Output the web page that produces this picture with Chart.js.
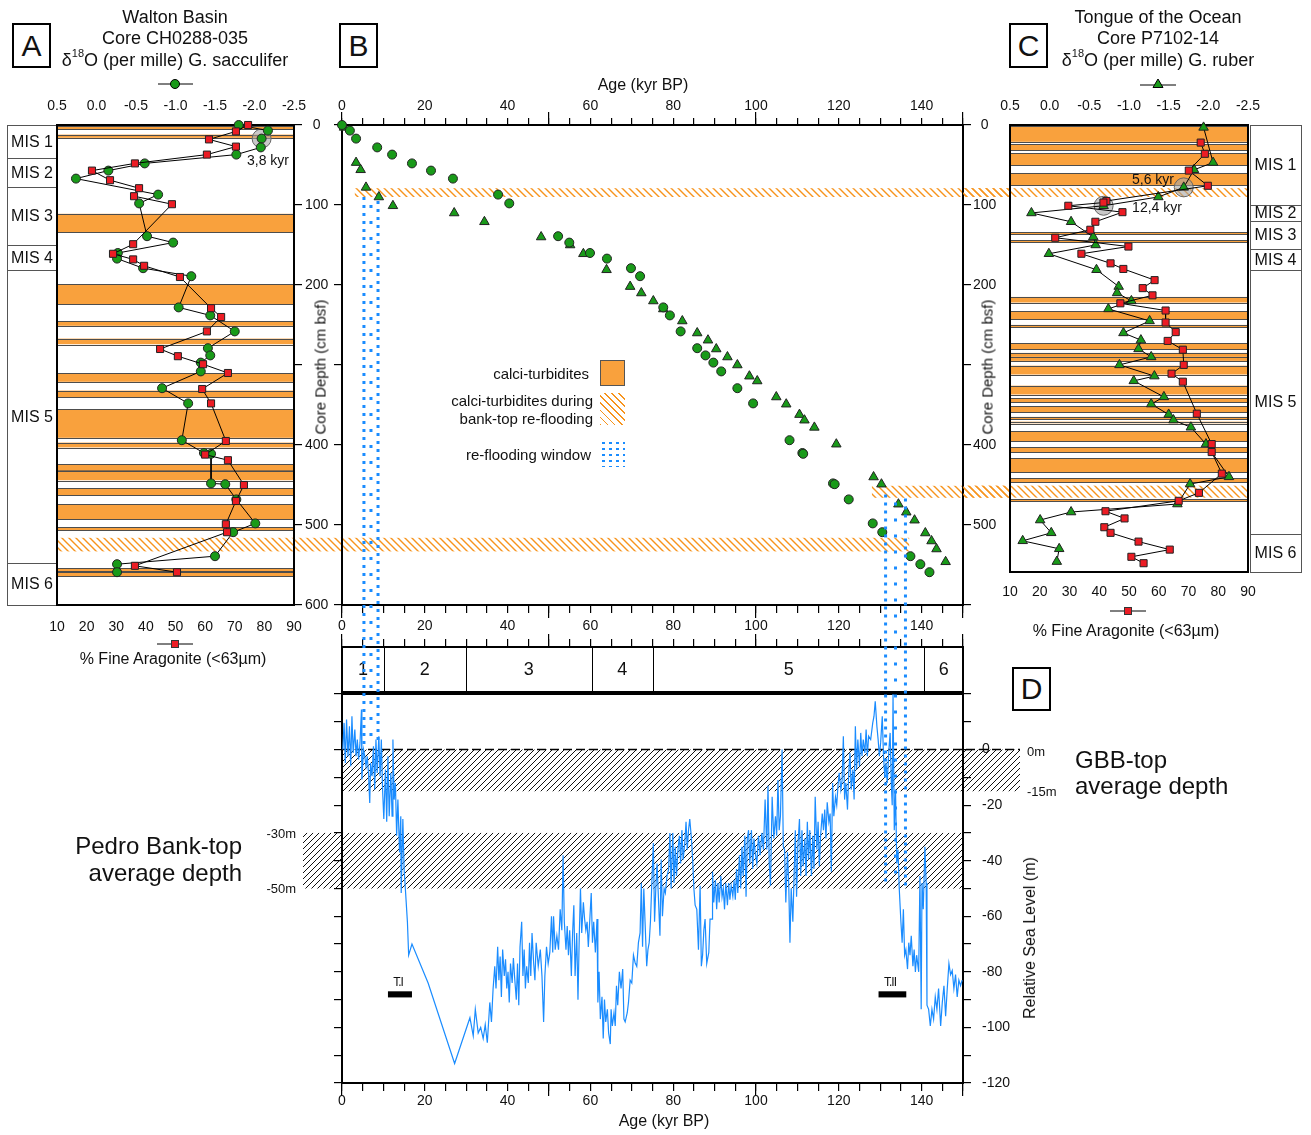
<!DOCTYPE html>
<html>
<head>
<meta charset="utf-8">
<title>Bank-top re-flooding and calci-turbidites</title>
<script src="https://cdn.jsdelivr.net/npm/chart.js@4.4.1/dist/chart.umd.min.js"></script>
<style>
  body { margin: 0; background: #fff; width: 1311px; height: 1135px; position: relative; overflow: hidden;
         font-family: 'Liberation Sans', Arial, sans-serif; color: #111; }
  canvas { position: absolute; left: 0; top: 0; }
  .t { position: absolute; white-space: nowrap; line-height: 1; transform: translate(-50%, -50%); }
  .r { transform: translate(-100%, -50%); }
  .l { transform: translate(0, -50%); }
  .rot { transform: translate(-50%, -50%) rotate(-90deg); }
  .box { position: absolute; border: 2px solid #000; box-sizing: border-box; display: flex;
         align-items: center; justify-content: center; font-size: 30px; background: #fff; }
  sup { font-size: 11px; position: relative; top: -2px; }
</style>
</head>
<body>
<canvas id="cA" width="1311" height="1135"></canvas>
<canvas id="cB" width="1311" height="1135"></canvas>
<canvas id="cC" width="1311" height="1135"></canvas>
<canvas id="cM" width="1311" height="1135"></canvas>
<canvas id="cD" width="1311" height="1135"></canvas>

<!-- panel letters -->
<div class="box" style="left:12px;top:23px;width:39px;height:45px">A</div>
<div class="box" style="left:339px;top:23px;width:39px;height:45px">B</div>
<div class="box" style="left:1009px;top:23px;width:39px;height:45px">C</div>
<div class="box" style="left:1012px;top:667px;width:39px;height:44px">D</div>

<!-- panel A titles -->
<div class="t" style="left:175px;top:17px;font-size:18px">Walton Basin</div>
<div class="t" style="left:175px;top:38px;font-size:18px">Core CH0288-035</div>
<div class="t" style="left:175px;top:59px;font-size:18px">&delta;<sup>18</sup>O (per mille) G. sacculifer</div>
<svg style="position:absolute;left:155px;top:76px" width="40" height="16">
  <line x1="3" y1="8" x2="38" y2="8" stroke="#000" stroke-width="1"/>
  <circle cx="20" cy="8" r="4.5" fill="#199a19" stroke="#000" stroke-width="1"/>
</svg>
<svg style="position:absolute;left:155px;top:636px" width="40" height="16">
  <line x1="2" y1="8" x2="38" y2="8" stroke="#000" stroke-width="1"/>
  <rect x="16.5" y="4.5" width="7" height="7" fill="#ec1c24" stroke="#333" stroke-width="1"/>
</svg>
<div class="t" style="left:173px;top:659px;font-size:16px">% Fine Aragonite (&lt;63&micro;m)</div>
<div class="t rot" style="left:320px;top:367px;font-size:15px">Core Depth (cm bsf)</div>
<div class="t" style="left:268px;top:160px;font-size:14px">3,8 kyr</div>

<!-- panel B -->
<div class="t" style="left:643px;top:85px;font-size:16px">Age (kyr BP)</div>
<div class="t r" style="left:589px;top:373px;font-size:15px">calci-turbidites</div>
<div class="t r" style="left:593px;top:400px;font-size:15px">calci-turbidites during</div>
<div class="t r" style="left:593px;top:418px;font-size:15px">bank-top re-flooding</div>
<div class="t r" style="left:591px;top:454px;font-size:15px">re-flooding window</div>
<div style="position:absolute;left:600px;top:360px;width:25px;height:26px;background:#f9a13d;border:1px solid #555;box-sizing:border-box"></div>
<div style="position:absolute;left:600px;top:393px;width:25px;height:32px;background:repeating-linear-gradient(45deg,#f7941d 0 1.3px,transparent 1.3px 5px)"></div>
<div style="position:absolute;left:600px;top:440px;width:25px;height:27px;background-image:radial-gradient(#1a8cff 1.3px,transparent 1.6px);background-size:7px 6px"></div>

<!-- panel C titles -->
<div class="t" style="left:1158px;top:17px;font-size:18px">Tongue of the Ocean</div>
<div class="t" style="left:1158px;top:38px;font-size:18px">Core P7102-14</div>
<div class="t" style="left:1158px;top:59px;font-size:18px">&delta;<sup>18</sup>O (per mille) G. ruber</div>
<svg style="position:absolute;left:1138px;top:76px" width="40" height="16">
  <line x1="2" y1="9" x2="38" y2="9" stroke="#000" stroke-width="1"/>
  <polygon points="20,3 25,11.5 15,11.5" fill="#199a19" stroke="#000" stroke-width="1"/>
</svg>
<svg style="position:absolute;left:1108px;top:603px" width="40" height="16">
  <line x1="2" y1="8" x2="38" y2="8" stroke="#000" stroke-width="1"/>
  <rect x="16.5" y="4.5" width="7" height="7" fill="#ec1c24" stroke="#333" stroke-width="1"/>
</svg>
<div class="t" style="left:1126px;top:631px;font-size:16px">% Fine Aragonite (&lt;63&micro;m)</div>
<div class="t rot" style="left:987px;top:367px;font-size:15px">Core Depth (cm bsf)</div>
<div class="t" style="left:1153px;top:179px;font-size:14px">5,6 kyr</div>
<div class="t" style="left:1157px;top:207px;font-size:14px">12,4 kyr</div>

<!-- panel D -->
<div class="t r" style="left:242px;top:846px;font-size:24px">Pedro Bank-top</div>
<div class="t r" style="left:242px;top:873px;font-size:24px">average depth</div>
<div class="t r" style="left:296px;top:833px;font-size:13px">-30m</div>
<div class="t r" style="left:296px;top:888px;font-size:13px">-50m</div>
<div class="t l" style="left:1027px;top:751px;font-size:13px">0m</div>
<div class="t l" style="left:1027px;top:791px;font-size:13px">-15m</div>
<div class="t l" style="left:1075px;top:760px;font-size:24px">GBB-top</div>
<div class="t l" style="left:1075px;top:786px;font-size:24px">average depth</div>
<div class="t rot" style="left:1030px;top:938px;font-size:16px">Relative Sea Level (m)</div>
<div class="t" style="left:398px;top:982px;font-size:12px;letter-spacing:-1px">T.I</div>
<div class="t" style="left:890px;top:982px;font-size:12px;letter-spacing:-1px">T.II</div>
<div class="t" style="left:664px;top:1121px;font-size:16px">Age (kyr BP)</div>

<script>
// ---- Walton Basin core CH0288-035 (panel A and circles in B) ----
const wbDepth = [0, 7, 17, 28, 37, 48, 57, 67, 87, 98, 139, 147, 160, 167, 179, 189, 228, 238, 258, 279,
                 288, 297, 308, 329, 348, 394, 410, 411, 448, 449, 468, 498, 509, 539, 549, 559];
const wbO18 = [-1.80, -2.17, -2.09, -2.08, -1.77, -0.61, -0.15, 0.26, -0.78, -0.54, -0.64, -0.97, -0.27, -0.26,
               -0.59, -1.20, -1.04, -1.44, -1.75, -1.41, -1.44, -1.32, -1.32, -0.83, -1.16, -1.08, -1.36, -1.45,
               -1.45, -1.63, -1.77, -2.01, -1.73, -1.50, -0.26, -0.26];
const wbAge = [0, 1.9, 3.4, 8.5, 12.1, 16.9, 21.5, 26.8, 37.7, 40.4, 52.2, 54.9, 59.9, 64.0, 69.8, 72.0, 77.6,
               79.2, 81.8, 85.8, 87.8, 89.7, 91.6, 95.5, 99.3, 108.1, 111.2, 111.4, 118.6, 119.0, 122.4, 128.2,
               130.5, 137.3, 139.7, 141.9];
const wbAragDepth = [0, 8, 18, 27, 37, 48, 57, 69, 79, 89, 99, 149, 161, 168, 176, 190, 229, 240, 258, 280,
                     289, 299, 310, 330, 348, 395, 412, 419, 450, 470, 499, 509, 551, 559];
const wbArag = [74.5, 70.4, 61.3, 70.4, 60.6, 36.3, 21.8, 27.9, 37.7, 36.0, 48.8, 35.7, 28.9, 35.7, 39.4, 51.5,
                62.0, 65.4, 60.6, 44.8, 50.8, 59.3, 67.7, 59.0, 62.0, 67.0, 60.0, 67.7, 73.1, 70.4, 67.0, 67.4,
                36.3, 50.5];
const wbBands = [[1, 5], [12, 16], [111, 134], [199, 224], [245, 251], [267, 274], [310, 321], [332, 340],
                 [355, 391], [397, 403], [424, 432], [432, 444], [454, 463], [474, 493], [503, 507], [554, 558],
                 [559, 564]];
const wbHatch = [[516, 533]];
const wbHatchEnd = [137];          // kyr, where the band stops in panel B
const misDepthA = [0, 41, 77, 150, 181, 547, 600];
const wbMarked = [2];              // 3,8 kyr

// ---- Tongue of the Ocean core P7102-14 (panel C and triangles in B) ----
const totoDepth = [3, 47, 56, 78, 90, 101, 110, 121, 140, 150, 161, 181, 202, 210, 220, 230, 245, 260, 269, 280,
                   290, 300, 314, 320, 340, 349, 362, 369, 378, 399, 440, 449, 474, 484, 494, 510, 520, 530, 546];
const totoO18 = [-1.94, -2.06, -1.82, -1.69, -1.37, -0.68, 0.23, -0.27, -0.55, -0.58, 0.01, -0.59, -0.87, -0.85,
                 -1.03, -0.74, -1.26, -0.93, -1.15, -1.12, -1.28, -0.88, -1.32, -1.06, -1.44, -1.28, -1.50, -1.56,
                 -1.78, -1.97, -2.26, -1.77, -1.61, -0.27, 0.12, -0.02, 0.34, -0.12, -0.09];
const totoAge = [0.5, 3.4, 4.5, 5.8, 8.9, 12.3, 27.1, 34.4, 48.1, 55.1, 58.3, 63.9, 69.6, 72.3, 75.2, 77.6, 82.2,
                 85.8, 88.4, 90.4, 93.1, 95.5, 98.4, 100.3, 104.9, 107.3, 110.5, 111.7, 114.1, 119.4, 128.4, 130.3,
                 134.4, 136.3, 138.3, 140.9, 142.4, 143.6, 145.8];
const totoAragDepth = [22, 36, 57, 76, 95, 97, 101, 109, 121, 131, 141, 152, 161, 173, 180, 194, 204, 213, 223,
                       232, 247, 259, 270, 281, 300, 311, 321, 361, 399, 409, 436, 460, 470, 483, 492, 503, 510,
                       521, 531, 540, 548];
const totoArag = [74.1, 75.5, 70.1, 76.5, 42.4, 41.4, 29.6, 47.8, 38.7, 37.0, 25.2, 49.8, 34.0, 43.8, 48.1, 58.6,
                  54.6, 57.9, 47.1, 62.3, 62.3, 65.7, 63.0, 68.1, 68.4, 64.3, 68.1, 72.8, 77.8, 77.8, 81.2, 73.5,
                  66.7, 42.1, 48.5, 41.7, 43.8, 53.2, 63.7, 50.8, 54.9];
const totoBands = [[1, 21], [24, 32], [35, 50], [60, 75], [134, 137], [144, 147], [215, 222], [233, 243],
                   [250, 253], [273, 281], [285, 290], [290, 295], [301, 312], [326, 337], [342, 347], [352, 360],
                   [365, 368], [371, 373], [383, 396], [403, 409], [417, 434], [442, 447], [468, 471]];
const totoHatch = [[79, 90], [451, 466]];
const totoHatchStart = [3.1, 128];  // kyr, where the bands start in panel B
const misDepthC = [0, 100, 120, 155, 181, 511, 559];
const totoMarked = [3, 5];          // 5,6 kyr and 12,4 kyr
const totoBottom = 559;             // core base, cm

// ---- marine isotope stages, re-flooding windows, terminations ----
const misAge = [0, 10.1, 29.9, 60.3, 75.1, 140.7, 150];
const misLabels = ['1', '2', '3', '4', '5', '6'];
const refloodAge = [[5.3, 8.7], [131.3, 136.1]];
const refloodTop = [90, 462];       // cm, panel B
const refloodBottom = [2, -49];     // m, panel D
const termAge = [[11.1, 16.9], [129.6, 136.3]];
const termLevel = [-87, -89.2];
const gbbLevel = [0, -15];
const pedroLevel = [-30, -50];

// ---- relative sea level (panel D) ----
const slAge = [0.2, 0.5, 0.8, 1.1, 1.45, 1.8, 2.1, 2.4, 2.7, 3.1, 3.4, 3.7, 4.0, 4.35, 4.7, 4.8, 5.2, 5.5, 5.8, 6.1,
  6.4, 6.7, 6.9, 7.25, 7.6, 7.9, 8.2, 8.5, 8.9, 9.2, 9.5, 9.8, 10.1, 10.5, 10.8, 11.1, 11.4, 11.8, 12.1, 12.3,
  12.6, 12.9, 13.2, 13.5, 13.9, 14.2, 14.3, 14.7, 15.0, 15.3, 15.8, 16.1, 16.9, 20.8, 27.2, 30.9, 31.7, 32.2, 32.9,
  33.5, 34.1, 34.6, 35.1, 35.7, 36.1, 36.5, 36.9, 37.2, 37.6, 37.9, 38.2, 38.5, 38.8, 39.2, 39.5, 39.8, 40.1, 40.4,
  40.7, 41.1, 41.4, 41.7, 42.1, 42.4, 42.7, 43.0, 43.4, 43.7, 44.0, 44.3, 44.6, 45.0, 45.3, 45.6, 45.9, 46.3, 46.6,
  46.9, 47.4, 47.9, 48.3, 48.7, 49.0, 49.4, 49.8, 50.2, 50.6, 50.9, 51.1, 51.5, 51.9, 52.3, 52.7, 53.1, 53.4, 53.7,
  54.1, 54.4, 54.7, 55.0, 55.4, 55.7, 56.0, 56.3, 56.7, 57.0, 57.3, 57.6, 57.9, 58.3, 58.6, 58.9, 59.2, 59.5, 59.9,
  60.2, 60.5, 60.8, 61.2, 61.6, 61.8, 62.1, 62.4, 62.8, 63.1, 63.4, 63.7, 64.1, 64.4, 64.8, 65.0, 65.3, 65.7, 66.0,
  66.3, 66.6, 67.0, 67.4, 67.8, 68.1, 68.4, 68.9, 69.2, 69.6, 70.0, 70.4, 70.8, 71.2, 71.6, 72.0, 72.3, 72.6, 72.9,
  73.2, 73.6, 73.9, 74.2, 74.5, 74.9, 75.2, 75.5, 75.8, 76.1, 76.5, 76.8, 77.1, 77.4, 77.8, 78.1, 78.5, 78.9, 79.2,
  79.5, 79.9, 80.2, 80.5, 80.8, 81.1, 81.5, 81.8, 82.1, 82.4, 82.8, 83.1, 83.4, 83.7, 84.0, 84.4, 84.7, 85.0, 85.3,
  85.7, 86.1, 86.5, 86.8, 87.1, 87.4, 87.7, 88.1, 88.6, 88.9, 89.4, 89.5, 89.8, 90.2, 90.5, 90.8, 91.1, 91.5, 91.8,
  92.1, 92.4, 92.7, 93.1, 93.4, 93.7, 94.0, 94.4, 94.7, 95.0, 95.3, 95.6, 96.0, 96.3, 96.6, 96.9, 97.3, 97.6, 97.9,
  98.2, 98.5, 98.9, 99.2, 99.5, 99.8, 100.2, 100.6, 101.0, 101.4, 101.8, 102.2, 102.6, 102.9, 103.2, 103.5, 103.9,
  104.3, 104.7, 105.0, 105.3, 105.6, 105.9, 106.3, 106.6, 106.9, 107.2, 107.6, 107.9, 108.2, 108.5, 108.9, 109.2,
  109.5, 109.8, 110.1, 110.5, 110.8, 111.1, 111.4, 111.8, 112.1, 112.4, 112.7, 113.0, 113.4, 113.7, 114.0, 114.3,
  114.7, 115.0, 115.3, 115.6, 116.0, 116.3, 116.6, 116.9, 117.2, 117.6, 117.9, 118.2, 118.5, 118.8, 119.2, 119.5,
  119.8, 120.1, 120.5, 120.8, 121.1, 121.4, 121.7, 122.1, 122.4, 122.7, 123.0, 123.4, 123.7, 124.0, 124.3, 124.6,
  125.0, 125.3, 125.6, 125.9, 126.3, 126.6, 126.9, 127.2, 127.7, 128.2, 128.5, 128.8, 129.2, 129.5, 129.8, 130.1,
  130.5, 130.8, 131.1, 131.4, 131.7, 132.1, 132.4, 132.7, 132.9, 133.1, 133.4, 133.7, 134.0, 134.3, 134.6, 135.0,
  135.3, 135.6, 135.9, 136.2, 136.6, 136.9, 137.2, 137.5, 137.9, 138.2, 138.5, 138.8, 139.3, 139.6, 139.9, 140.1,
  140.4, 140.8, 141.1, 141.3, 141.7, 142.1, 142.5, 142.9, 143.3, 143.7, 144.1, 144.6, 145.0, 145.4, 145.8, 146.2,
  146.6, 147.0, 147.4, 147.8, 148.2, 148.6, 149.0, 149.4, 149.8];
const slLevel = [0, 9.6, -4.8, 10.8, -2.4, 8.4, -6, 12, -1.2, 7.2, -2.4, 3.6, -3.6, 2.4, 14.4, -10.8, 0, -2.4, -6,
  -2.4, -8.4, -19.2, -4.8, -9.6, 1.2, -14.4, 3.6, -8.4, 4.8, -9.6, 3.6, -14.4, -25, -7.2, -26, -2.4, -24, -8.4, -24,
  3.6, -18, -12, -31, -18, -37, -24, -51.6, -25, -43, -50, -62, -74, -70, -84, -113, -96.5, -103, -93.5, -102, -100,
  -104, -99, -105.5, -91, -98, -86, -78, -86, -71, -83, -74.5, -89, -72, -81.5, -75.5, -86, -80, -91, -77, -84, -75,
  -82, -90, -77, -92, -71, -62, -81.5, -72, -86, -78, -84, -69.5, -81.5, -66, -77, -83, -69.5, -78, -72, -81.5, -98,
  -81.5, -71, -77, -73, -60, -73, -60, -72, -67, -72, -57.5, -65, -38, -62, -72, -63.5, -74, -65, -81.5, -66, -56,
  -81.5, -66, -90, -68, -50, -66, -55, -61, -65, -62, -71, -60, -51.6, -69.5, -62, -73, -61, -91, -80, -97, -89,
  -104, -90, -98, -93.5, -102, -106, -93.5, -99.5, -94.7, -99.5, -85, -92, -80, -86, -79, -97, -98, -94.7, -91, -83,
  -84, -74, -76.7, -78, -69.5, -66, -48, -71, -50, -62, -78, -72, -69.5, -62, -45.5, -33.6, -62, -50, -41, -56, -67,
  -39.6, -60, -50, -51.6, -45.5, -43, -30, -50, -30, -48, -35, -45.5, -37, -31, -41, -29, -39.6, -33.6, -26, -36,
  -29, -25, -32, -39.6, -50, -56, -57.5, -72, -49, -78, -74, -65, -61, -77, -73, -61, -61, -44, -55, -47, -57.5,
  -48, -55, -45.5, -53, -50, -57.5, -48, -56, -48, -54, -49, -52.8, -47, -54, -43, -51.6, -38, -50, -35, -45.5, -31,
  -53, -32, -29, -41, -29, -43, -32, -37, -41, -31, -38, -30, -36, -18, -36, -13, -41, -49, -17, -32, -24, -31, -11,
  -29, -24, 0, -35, -36, -55, -37, -48, -69.5, -50, -62, -45.5, -29, -53, -35, -25, -45.5, -29, -42, -32, -45.5,
  -26, -39.6, -29, -45.5, -31, -43, -17, -36, -26, -42, -31, -23, -29, -21.6, -32, -19, -26, -23, -44, -12, -24,
  -17, -20, -13, -8.4, -14.4, -11, 4.8, -18, -12, -21.6, -8.4, -1.2, -14.4, -7.2, -18, 8.4, -7.2, 3.6, -6, 6, -2.4,
  3.6, -1.2, 7.2, -2.4, 4.8, 3.6, 9.6, 12, 17.4, 8.4, 3.6, -2.4, 2.4, 12, -2.4, -9.6, -4.8, -12, 0, 6, -13, -20,
  20, -29, -14.4, -41, -36, -50, -62, -69.5, -57.5, -74, -72, -79, -69.5, -74, -67, -78, -72, -80, -74, -80, -45.5,
  -93.5, -48, -57.5, -35, -48, -92, -93.5, -99.5, -93.5, -97, -89, -93.5, -86, -99.5, -91, -85, -96, -86, -77, -81,
  -79.5, -86, -81, -89, -83, -85, -83];

// ---- layout (chart areas in page pixels) ----
const PAGE_W = 1311, PAGE_H = 1135;
const AREA = {
  A: { l: 57, r: 294, t: 125, b: 605 },
  B: { l: 342, r: 963, t: 125, b: 605 },
  C: { l: 1010, r: 1248, t: 125, b: 572 },
  M: { l: 342, r: 963, t: 647, b: 692 },
  D: { l: 342, r: 963, t: 694, b: 1083 }
};
const gbbRight = 1020, pedroLeft = 303;

const GREEN = '#199a19', RED = '#ec1c24', ORANGE = '#f9a13d', BLUE = '#1a8cff';
const FONT = "'Liberation Sans', Arial, sans-serif";

Chart.defaults.font.family = FONT;
Chart.defaults.font.size = 14;
Chart.defaults.color = '#111';
Chart.defaults.animation = false;
Chart.defaults.responsive = false;
Chart.defaults.plugins.legend.display = false;
Chart.defaults.plugins.tooltip.enabled = false;

function pad(area, ax) {
  return { left: area.l - (ax.left || 0), right: PAGE_W - area.r - (ax.right || 0),
           top: area.t - (ax.top || 0), bottom: PAGE_H - area.b - (ax.bottom || 0) };
}

// linear axis with a fixed box size so chart areas line up across panels
function axis(pos, min, max, step, size, o = {}) {
  return {
    type: 'linear', position: pos, min: min, max: max, reverse: !!o.reverse, display: o.display !== false,
    weight: o.weight || 0,
    afterFit: s => { if (s.isHorizontal()) s.height = size; else s.width = size; },
    border: { display: false },
    grid: { drawOnChartArea: false, drawTicks: !!o.tick, tickLength: o.tick || 0, color: '#000', lineWidth: 1.2 },
    ticks: { stepSize: step, autoSkip: false, maxRotation: 0, padding: o.pad || 0, display: o.labels !== false,
             crossAlign: o.cross || 'near', callback: o.fmt || (v => v) }
  };
}
// longer ticks every 50 kyr, sitting right on the plot edge
const majorAge = pos => axis(pos, 0, 150, 50, 0, { tick: 13, labels: false });
const ageFmt = v => (v % 20 === 0 ? v : '');

function hatchTile(color, gap, lw, slash) {
  const c = document.createElement('canvas');
  c.width = c.height = gap;
  const g = c.getContext('2d');
  g.strokeStyle = color; g.lineWidth = lw; g.beginPath();
  if (slash) {
    g.moveTo(0, gap); g.lineTo(gap, 0);
    g.moveTo(-1, 1); g.lineTo(1, -1);
    g.moveTo(gap - 1, gap + 1); g.lineTo(gap + 1, gap - 1);
  } else {
    g.moveTo(0, 0); g.lineTo(gap, gap);
    g.moveTo(-1, gap - 1); g.lineTo(1, gap + 1);
    g.moveTo(gap - 1, -1); g.lineTo(gap + 1, 1);
  }
  g.stroke();
  return c;
}
const orangeTile = hatchTile('#f7941d', 7, 1.4, false);
const blackTile = hatchTile('#111', 6, 1, true);

function drawFrame(ctx, a) {
  ctx.save();
  ctx.lineWidth = 2; ctx.strokeStyle = '#000';
  ctx.strokeRect(a.left, a.top, a.right - a.left, a.bottom - a.top);
  ctx.restore();
}
function drawBands(ctx, bands, y, x0, x1) {
  ctx.save();
  ctx.fillStyle = ORANGE; ctx.strokeStyle = '#4d4d4d'; ctx.lineWidth = 1;
  bands.forEach(([d0, d1]) => {
    const y0 = y.getPixelForValue(d0), y1 = y.getPixelForValue(d1);
    ctx.fillRect(x0, y0, x1 - x0, y1 - y0);
    ctx.strokeRect(x0, Math.round(y0) + 0.5, x1 - x0, Math.round(y1 - y0));
  });
  ctx.restore();
}
function fillHatch(ctx, x0, x1, y0, y1) {
  ctx.save();
  ctx.fillStyle = ctx.createPattern(orangeTile, 'repeat');
  ctx.fillRect(x0, y0, x1 - x0, y1 - y0);
  ctx.restore();
}
function drawMis(ctx, bounds, y, x0, x1) {
  ctx.save();
  ctx.strokeStyle = '#555'; ctx.lineWidth = 1; ctx.fillStyle = '#111';
  ctx.font = '16px ' + FONT; ctx.textAlign = 'center'; ctx.textBaseline = 'middle';
  for (let i = 0; i < bounds.length - 1; i++) {
    const y0 = y.getPixelForValue(bounds[i]), y1 = y.getPixelForValue(bounds[i + 1]);
    ctx.strokeRect(x0 + 0.5, Math.round(y0) + 0.5, x1 - x0, Math.round(y1 - y0));
    ctx.fillText('MIS ' + (i + 1), (x0 + x1) / 2, (y0 + y1) / 2 + 1);
  }
  ctx.restore();
}
function ring(ctx, x, y) {
  ctx.save();
  ctx.beginPath(); ctx.arc(x, y, 9.5, 0, Math.PI * 2);
  ctx.fillStyle = 'rgba(165,165,165,0.6)'; ctx.strokeStyle = '#666'; ctx.lineWidth = 1;
  ctx.fill(); ctx.stroke();
  ctx.restore();
}

const pts = (xs, ys) => ys.map((v, i) => ({ x: xs[i], y: v }));
const lineSet = (data, xId, yId, style, color, r) => ({
  data: data, xAxisID: xId, yAxisID: yId, showLine: true, borderColor: '#000', borderWidth: 1,
  pointStyle: style, pointRadius: r, pointBackgroundColor: color, pointBorderColor: '#222',
  pointBorderWidth: 1, clip: false
});

// ---------- panel A ----------
const panelA = {
  id: 'panelA',
  beforeDatasetsDraw(chart) {
    const { ctx, chartArea: a, scales: { y, xO } } = chart;
    drawBands(ctx, wbBands, y, a.left, a.right);
    wbHatch.forEach(([d0, d1]) => fillHatch(ctx, a.left, AREA.B.l, y.getPixelForValue(d0), y.getPixelForValue(d1)));
    drawMis(ctx, misDepthA, y, a.left - 50, a.left);
    wbMarked.forEach(i => ring(ctx, xO.getPixelForValue(wbO18[i]), y.getPixelForValue(wbDepth[i])));
    drawFrame(ctx, a);
  }
};
new Chart(document.getElementById('cA'), {
  type: 'scatter',
  data: { datasets: [
    lineSet(pts(wbArag, wbAragDepth), 'xA', 'y', 'rect', RED, 5),
    lineSet(pts(wbO18, wbDepth), 'xO', 'y', 'circle', GREEN, 4.5)
  ] },
  options: {
    layout: { padding: pad(AREA.A, { top: 40, bottom: 40, right: 40 }) },
    scales: {
      xO: axis('top', -2.5, 0.5, 0.5, 40, { reverse: true, pad: 10, fmt: v => v.toFixed(1) }),
      xA: axis('bottom', 10, 90, 10, 40, { pad: 14 }),
      y: axis('right', 0, 600, 100, 40, { reverse: true, tick: 8, pad: 3, cross: 'center',
                                          fmt: v => (v === 300 ? '' : v) })
    }
  },
  plugins: [panelA]
});

// ---------- panel B ----------
const panelB = {
  id: 'panelB',
  beforeDatasetsDraw(chart) {
    const { ctx, chartArea: a, scales: { x, yL } } = chart;
    wbHatch.forEach(([d0, d1], i) =>
      fillHatch(ctx, a.left, x.getPixelForValue(wbHatchEnd[i]), yL.getPixelForValue(d0), yL.getPixelForValue(d1)));
    totoHatch.forEach(([d0, d1], i) =>
      fillHatch(ctx, x.getPixelForValue(totoHatchStart[i]), AREA.C.l, yL.getPixelForValue(d0), yL.getPixelForValue(d1)));
    drawFrame(ctx, a);
  }
};
const chartB = new Chart(document.getElementById('cB'), {
  type: 'scatter',
  data: { datasets: [
    { data: pts(wbAge, wbDepth), xAxisID: 'x', yAxisID: 'yL', pointStyle: 'circle', pointRadius: 4.5,
      pointBackgroundColor: GREEN, pointBorderColor: '#222', pointBorderWidth: 1, clip: false },
    { data: pts(totoAge, totoDepth), xAxisID: 'x', yAxisID: 'yL', pointStyle: 'triangle', pointRadius: 5.5,
      pointBackgroundColor: GREEN, pointBorderColor: '#222', pointBorderWidth: 1, clip: false }
  ] },
  options: {
    layout: { padding: pad(AREA.B, { top: 40, bottom: 40, left: 10, right: 40 }) },
    scales: {
      x: axis('bottom', 0, 150, 5, 40, { tick: 8, pad: 5, fmt: ageFmt, weight: 1 }),
      xT: axis('top', 0, 150, 5, 40, { tick: 7, pad: 3, fmt: ageFmt, weight: 1 }),
      xMajB: majorAge('bottom'),
      xMajT: majorAge('top'),
      yL: axis('left', 0, 600, 100, 10, { reverse: true, tick: 8, labels: false }),
      yR: axis('right', 0, 600, 100, 40, { reverse: true, tick: 8, pad: 2, cross: 'center',
                                           fmt: v => (v === 300 || v === 600 ? '' : v) })
    }
  },
  plugins: [panelB]
});

// ---------- panel C ----------
const panelC = {
  id: 'panelC',
  beforeDatasetsDraw(chart) {
    const { ctx, chartArea: a, scales: { y, xO } } = chart;
    drawBands(ctx, totoBands, y, a.left, a.right);
    totoHatch.forEach(([d0, d1]) => fillHatch(ctx, AREA.B.r, a.right, y.getPixelForValue(d0), y.getPixelForValue(d1)));
    drawMis(ctx, misDepthC, y, a.right + 2, a.right + 53);
    totoMarked.forEach(i => ring(ctx, xO.getPixelForValue(totoO18[i]), y.getPixelForValue(totoDepth[i])));
    drawFrame(ctx, a);
  }
};
new Chart(document.getElementById('cC'), {
  type: 'scatter',
  data: { datasets: [
    lineSet(pts(totoArag, totoAragDepth), 'xA', 'y', 'rect', RED, 5),
    lineSet(pts(totoO18, totoDepth), 'xO', 'y', 'triangle', GREEN, 5.5)
  ] },
  options: {
    layout: { padding: pad(AREA.C, { top: 40, bottom: 40 }) },
    scales: {
      xO: axis('top', -2.5, 0.5, 0.5, 40, { reverse: true, pad: 10, fmt: v => v.toFixed(1) }),
      xA: axis('bottom', 10, 90, 10, 40, { pad: 12 }),
      y: axis('left', 0, totoBottom, 100, 0, { reverse: true, display: false })
    }
  },
  plugins: [panelC]
});

// ---------- MIS strip above D ----------
const misStrip = {
  id: 'misStrip',
  afterDraw(chart) {
    const { ctx, chartArea: a, scales: { x } } = chart;
    ctx.save();
    ctx.strokeStyle = '#000'; ctx.lineWidth = 1; ctx.fillStyle = '#111';
    ctx.font = '18px ' + FONT; ctx.textAlign = 'center'; ctx.textBaseline = 'middle';
    misLabels.forEach((lab, i) => {
      const x0 = x.getPixelForValue(misAge[i]), x1 = x.getPixelForValue(misAge[i + 1]);
      if (i > 0) {
        ctx.beginPath(); ctx.moveTo(Math.round(x0) + 0.5, a.top); ctx.lineTo(Math.round(x0) + 0.5, a.bottom); ctx.stroke();
      }
      ctx.fillText(lab, (x0 + x1) / 2, (a.top + a.bottom) / 2 + 1);
    });
    ctx.restore();
    drawFrame(ctx, a);
  }
};
new Chart(document.getElementById('cM'), {
  type: 'scatter',
  data: { datasets: [] },
  options: {
    layout: { padding: pad(AREA.M, { top: 8 }) },
    scales: {
      x: axis('top', 0, 150, 5, 8, { tick: 8, labels: false, weight: 1 }),
      xMaj: majorAge('top'),
      y: axis('left', 0, 1, 1, 0, { display: false })
    }
  },
  plugins: [misStrip]
});

// ---------- panel D ----------
const panelD = {
  id: 'panelD',
  beforeDatasetsDraw(chart) {
    const { ctx, chartArea: a, scales: { x, yR } } = chart;
    ctx.save();
    ctx.fillStyle = ctx.createPattern(blackTile, 'repeat');
    const g0 = yR.getPixelForValue(gbbLevel[0]), g1 = yR.getPixelForValue(gbbLevel[1]);
    ctx.fillRect(a.left, g0, gbbRight - a.left, g1 - g0);
    const p0 = yR.getPixelForValue(pedroLevel[0]), p1 = yR.getPixelForValue(pedroLevel[1]);
    ctx.fillRect(pedroLeft, p0, a.right - pedroLeft, p1 - p0);
    ctx.strokeStyle = '#000'; ctx.lineWidth = 1.5; ctx.setLineDash([9, 4]);
    ctx.beginPath(); ctx.moveTo(a.left, g0); ctx.lineTo(gbbRight, g0); ctx.stroke();
    ctx.setLineDash([]);
    ctx.fillStyle = '#000';
    const t0 = yR.getPixelForValue(termLevel[0]), t1 = yR.getPixelForValue(termLevel[1]);
    termAge.forEach(([s, e]) => ctx.fillRect(x.getPixelForValue(s), t0, x.getPixelForValue(e) - x.getPixelForValue(s), t1 - t0));
    ctx.restore();
    drawFrame(ctx, a);
  },
  afterDatasetsDraw(chart) {
    // re-flooding windows run from panel B down into panel D
    const { ctx, scales: { x, yR } } = chart;
    const yB = chartB.scales.yL;
    ctx.save();
    ctx.strokeStyle = BLUE; ctx.lineWidth = 3;
    refloodAge.forEach(([a0, a1], i) => {
      const top = yB.getPixelForValue(refloodTop[i]), bot = yR.getPixelForValue(refloodBottom[i]);
      const cols = [[a0, [3, 5], 0], [a1, [3, 5], 4], [(a0 + a1) / 2, [3, 13], 8]];
      cols.forEach(([age, dash, off]) => {
        const px = x.getPixelForValue(age);
        ctx.setLineDash(dash); ctx.lineDashOffset = off;
        ctx.beginPath(); ctx.moveTo(px, top); ctx.lineTo(px, bot); ctx.stroke();
      });
    });
    ctx.restore();
  }
};
new Chart(document.getElementById('cD'), {
  type: 'scatter',
  data: { datasets: [
    { data: pts(slAge, slLevel), xAxisID: 'x', yAxisID: 'yR', showLine: true, borderColor: BLUE,
      borderWidth: 1.2, pointRadius: 0 }
  ] },
  options: {
    layout: { padding: pad(AREA.D, { left: 10, right: 60, bottom: 40 }) },
    scales: {
      x: axis('bottom', 0, 150, 5, 40, { tick: 8, pad: 2, fmt: ageFmt, weight: 1 }),
      xMaj: majorAge('bottom'),
      yL: axis('left', -120, 20, 10, 10, { tick: 8, labels: false }),
      yR: axis('right', -120, 20, 10, 60, { tick: 8, pad: 11, fmt: v => (v <= 0 && v % 20 === 0 ? v : '') })
    }
  },
  plugins: [panelD]
});
</script>
</body>
</html>
